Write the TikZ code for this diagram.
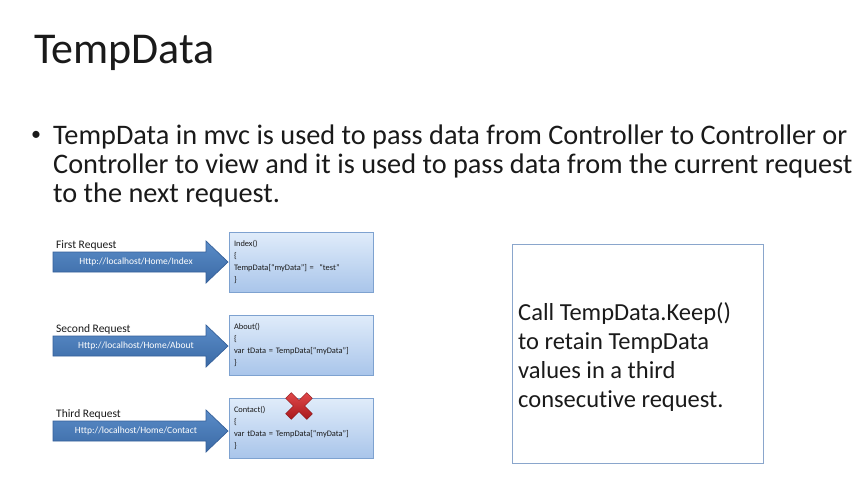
\documentclass[tikz,border=0pt]{standalone}
\usepackage{fontspec}
\setmainfont{Carlito}[Ligatures={NoCommon}]
\usetikzlibrary{shapes.geometric}
\definecolor{ink}{HTML}{1A1A1A}
\definecolor{arrowtop}{HTML}{5A8CC8}
\definecolor{arrowbot}{HTML}{3B6AA5}
\definecolor{arrowline}{HTML}{35609A}
\definecolor{boxtop}{HTML}{E0ECFA}
\definecolor{boxbot}{HTML}{A9C5EA}
\definecolor{boxline}{HTML}{7EA2D0}
\definecolor{noteline}{HTML}{8AA6CC}
\definecolor{crosstop}{HTML}{E0484A}
\definecolor{crossbot}{HTML}{A8181C}
\tikzset{
  title/.style={anchor=base west, inner sep=0pt, text=ink, font=\fontsize{44}{50}\selectfont},
  body/.style={anchor=base west, inner sep=0pt, text=ink, font=\fontsize{28.3}{29}\selectfont},
  notetext/.style={anchor=base west, inner sep=0pt, text=ink, font=\fontsize{24.5}{29}\selectfont},
  bulletdot/.style={anchor=base west, inner sep=0pt, text=ink, font=\fontsize{20}{24}\selectfont},
  reqlabel/.style={anchor=base west, inner sep=0pt, text=ink, font=\fontsize{11.5}{13}\selectfont},
  urltext/.style={inner sep=0pt, text=white, font=\fontsize{9.5}{11}\selectfont},
  codebox/.style={draw=boxline, line width=0.8pt, top color=boxtop, bottom color=boxbot,
    minimum width=144pt, minimum height=60pt, text width=134pt, align=left, inner xsep=5pt,
    text=ink, font=\fontsize{8.4}{12}\selectfont},
  blockarrow/.style={draw=arrowline, line width=0.7pt, top color=arrowtop, bottom color=arrowbot},
  notebox/.style={draw=noteline, line width=0.9pt, fill=white, minimum width=251pt, minimum height=219pt}
}
\begin{document}
\begin{tikzpicture}[x=1pt,y=-1pt]
\useasboundingbox (0,0) rectangle (862,493);
\fill[white] (0,0) rectangle (862,493);

% heading and bullet text
\node[title] (head) at (34,63) {TempData};
\node[bulletdot] (dot) at (31,140) {•};
\node[body] (l1) at (53,144) {TempData in mvc is used to pass data from Controller to Controller or};
\node[body] (l2) at (53,173) {Controller to view and it is used to pass data from the current request};
\node[body] (l3) at (53,202) {to the next request.};

% three requests: label, block arrow, action box
\foreach \i/\cy/\lab/\url in {
  1/262/{First Request}/{Http://localhost/Home/Index},
  2/346/{Second Request}/{Http://localhost/Home/About},
  3/431/{Third Request}/{Http://localhost/Home/Contact}}{
  \node[reqlabel] (req\i) at (56,\cy-14) {\lab};
  \path[blockarrow] (53,\cy-10) -- (206,\cy-10) -- (206,\cy-21) -- (228,\cy)
     -- (206,\cy+21) -- (206,\cy+10) -- (53,\cy+10) -- cycle;
  \node[urltext] (url\i) at (136,\cy) {\url};
}
\node[codebox] (box1) at (301,262) {Index()\\\{\\TempData[“myData”] =\ \ “test”\\\}};
\node[codebox] (box2) at (301,345) {About()\\\{\\var tData = TempData[“myData”]\\\}};
\node[codebox] (box3) at (301,428) {Contact()\\\{\\var tData = TempData[“myData”]\\\}};

% red cross on the third action
\begin{scope}[shift={(299,406)}, rotate=45]
  \path[top color=crosstop, bottom color=crossbot, draw=crossbot!80!black, line width=0.4pt]
    (-4,-15) -- (4,-15) -- (4,-4) -- (15,-4) -- (15,4) -- (4,4) -- (4,15)
    -- (-4,15) -- (-4,4) -- (-15,4) -- (-15,-4) -- (-4,-4) -- cycle;
\end{scope}
\coordinate (cross) at (299,406);

% note on the right
\node[notebox] (note) at (637.5,353.5) {};
\node[notetext] (n1) at (518,320) {Call TempData.Keep()};
\node[notetext] (n2) at (518,349) {to retain TempData};
\node[notetext] (n3) at (518,378) {values in a third};
\node[notetext] (n4) at (518,407) {consecutive request.};
\end{tikzpicture}
\end{document}
